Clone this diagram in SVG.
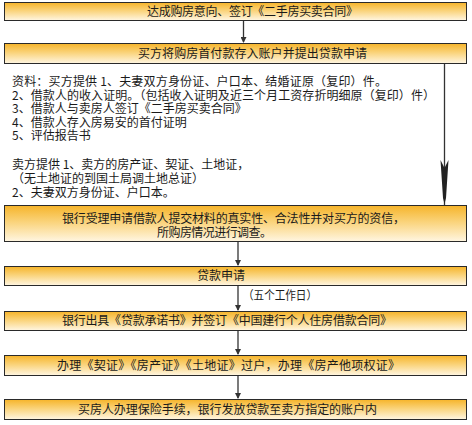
<svg xmlns="http://www.w3.org/2000/svg" width="472" height="425" viewBox="0 0 472 425">
<defs>
<linearGradient id="g" x1="0" y1="0" x2="0" y2="1">
<stop offset="0" stop-color="#F6B42A"/>
<stop offset="0.45" stop-color="#FAD37A"/>
<stop offset="1" stop-color="#FFF6E2"/>
</linearGradient>
<marker id="ah" markerWidth="6" markerHeight="6" refX="5" refY="3" orient="auto" markerUnits="userSpaceOnUse">
<path d="M0,0 L6,3 L0,6 Z" fill="#333"/>
</marker>
</defs>
<style>
.box{fill:url(#g);stroke:#2a2a2a;stroke-width:1}
.t{font-family:"Noto Sans CJK SC","Noto Sans CJK JP",sans-serif;font-size:12px;fill:#1a1a1a}
.c{stroke:#333;stroke-width:1.3;fill:none}
</style>
<rect width="472" height="425" fill="#fff"/>
<g id="connectors">
<line class="c" x1="243.5" y1="20" x2="243.5" y2="42" marker-end="url(#ah)"/>
<line class="c" x1="238" y1="241" x2="238" y2="265" marker-end="url(#ah)"/>
<line class="c" x1="238" y1="285" x2="238" y2="310" marker-end="url(#ah)"/>
<line class="c" x1="238" y1="330" x2="238" y2="354" marker-end="url(#ah)"/>
<line class="c" x1="238" y1="375" x2="238" y2="398" marker-end="url(#ah)"/>
<line class="c" x1="444.5" y1="63" x2="444.5" y2="205"/>
<path d="M440.5,160 L444.5,168 L448.5,160 L446,198 L444.5,204 L443,198 Z" fill="#222"/>
<text class="t" x="243" y="300" textLength="74" lengthAdjust="spacingAndGlyphs">（五个工作日）</text>
</g>
<g id="n1"><rect class="box" x="4.5" y="2.5" width="462" height="18"/><text class="t" x="147" y="15.5" textLength="211" lengthAdjust="spacing">达成购房意向、签订《二手房买卖合同》</text></g>
<g id="n2"><rect class="box" x="4.5" y="43.5" width="462" height="20"/><text class="t" x="138" y="57.5" textLength="229" lengthAdjust="spacing">买方将购房首付款存入账户并提出贷款申请</text></g>
<g id="materials">
<text class="t" x="12" y="86" textLength="375" lengthAdjust="spacing">资料：买方提供 1、夫妻双方身份证、户口本、结婚证原（复印）件。</text>
<text class="t" x="12" y="99.5" textLength="423" lengthAdjust="spacing">2、借款人的收入证明。（包括收入证明及近三个月工资存折明细原（复印）件）</text>
<text class="t" x="12" y="113">3、借款人与卖房人签订《二手房买卖合同》</text>
<text class="t" x="12" y="126.5">4、借款人存入房易安的首付证明</text>
<text class="t" x="12" y="140">5、评估报告书</text>
<text class="t" x="12" y="169">卖方提供 1、卖方的房产证、契证、土地证，</text>
<text class="t" x="12" y="183">（无土地证的到国土局调土地总证）</text>
<text class="t" x="12" y="197">2、夫妻双方身份证、户口本。</text>
</g>
<g id="n3"><rect class="box" x="4.5" y="205.5" width="462" height="36"/><text class="t" x="62" y="223" textLength="343" lengthAdjust="spacing">银行受理申请借款人提交材料的真实性、合法性并对买方的资信，</text><text class="t" x="157" y="237" textLength="115" lengthAdjust="spacing">所购房情况进行调查。</text></g>
<g id="n4"><rect class="box" x="4.5" y="266.5" width="462" height="19"/><text class="t" x="197" y="279.5" textLength="48" lengthAdjust="spacing">贷款申请</text></g>
<g id="n5"><rect class="box" x="4.5" y="311.5" width="462" height="19"/><text class="t" x="62" y="325" textLength="330" lengthAdjust="spacing">银行出具《贷款承诺书》并签订《中国建行个人住房借款合同》</text></g>
<g id="n6"><rect class="box" x="4.5" y="355.5" width="462" height="20"/><text class="t" x="57" y="369.5" textLength="343" lengthAdjust="spacing">办理《契证》《房产证》《土地证》过户，办理《房产他项权证》</text></g>
<g id="n7"><rect class="box" x="4.5" y="399.5" width="462" height="20"/><text class="t" x="78" y="413.5" textLength="299" lengthAdjust="spacing">买房人办理保险手续，银行发放贷款至卖方指定的账户内</text></g>
</svg>
